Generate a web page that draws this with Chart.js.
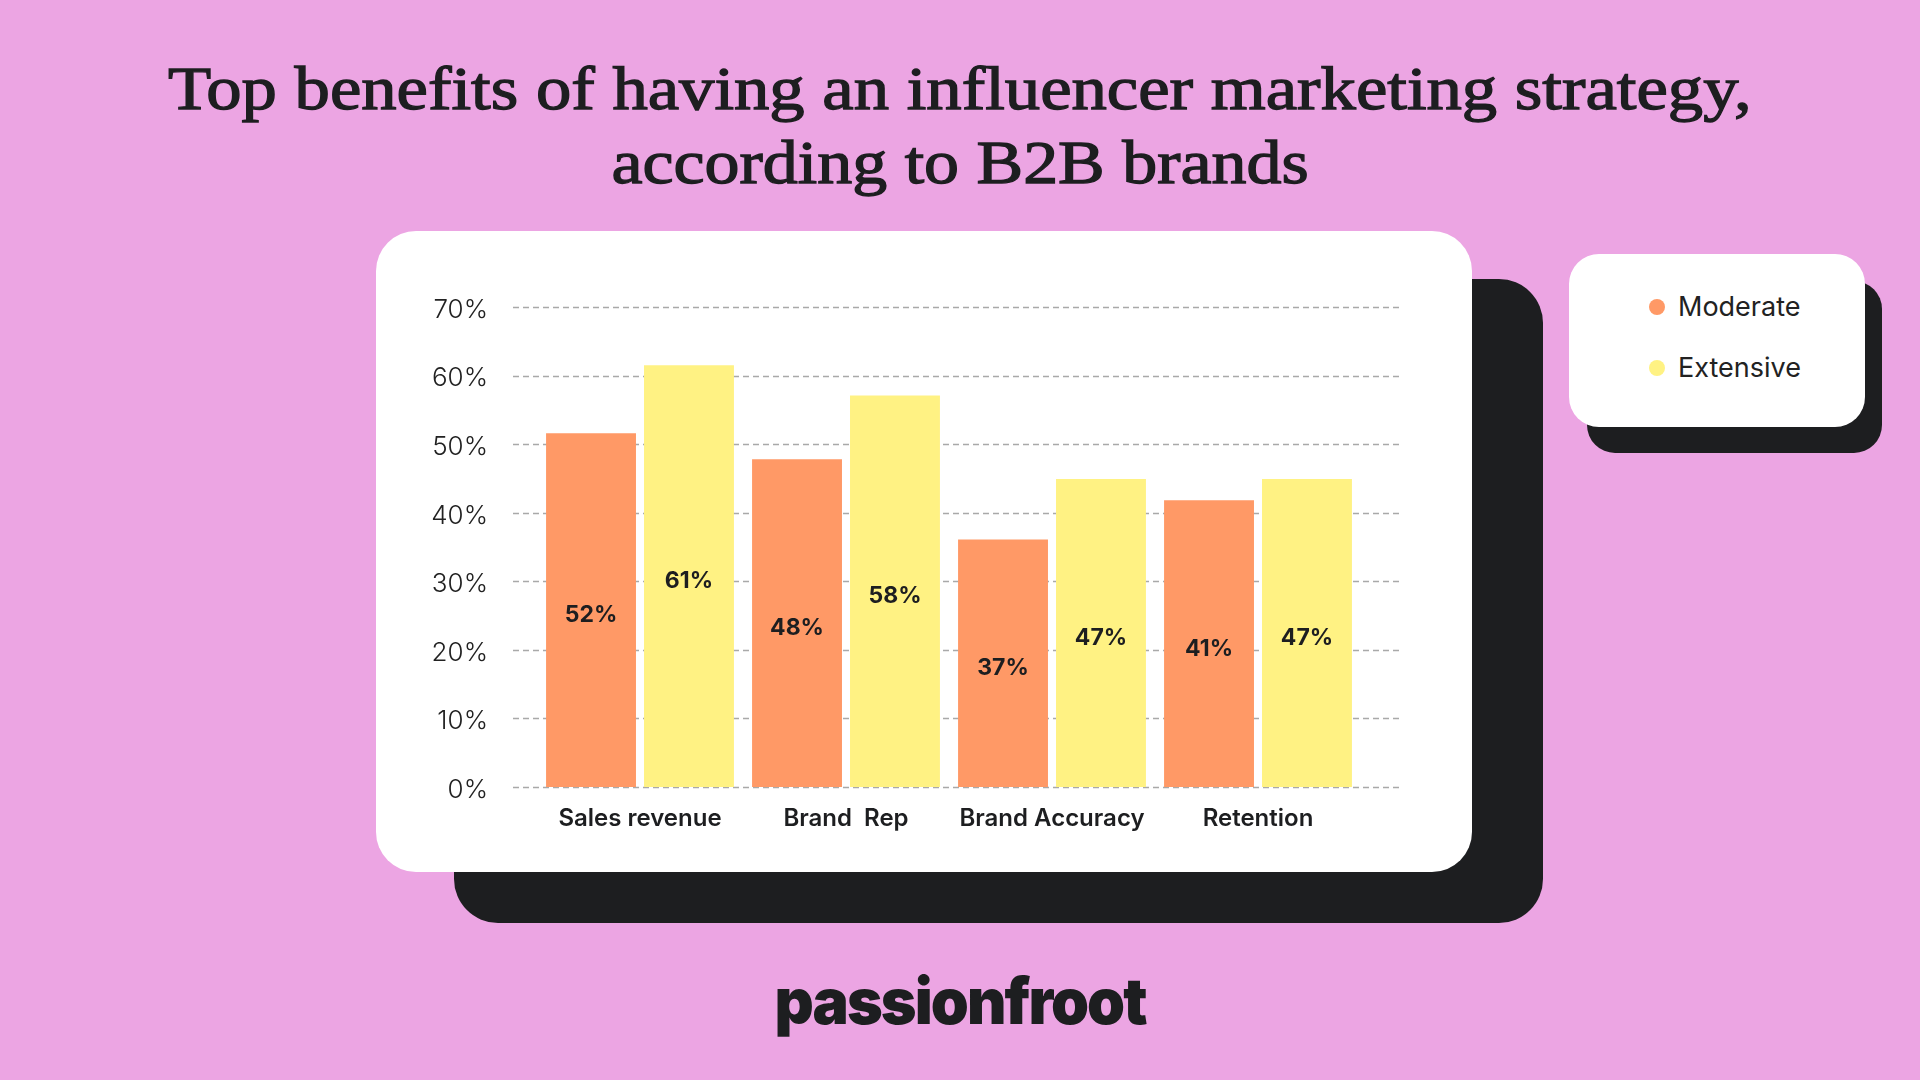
<!DOCTYPE html>
<html>
<head>
<meta charset="utf-8">
<script src="https://cdn.jsdelivr.net/npm/chart.js@4.4.1/dist/chart.umd.min.js"></script>
<style>
  html, body { margin: 0; padding: 0; }
  body { width: 1920px; height: 1080px; background: #eca5e3; position: relative; overflow: hidden; font-family: Inter, sans-serif; color: #1d1e20; }
  .title { position: absolute; left: 0; top: 51px; width: 1920px; text-align: center; font-family: "Liberation Serif", serif; font-size: 62px; line-height: 74px; -webkit-text-stroke: 1.3px #1d1e20; }
  .title span { display: inline-block; }
  .shadow { position: absolute; background: #1d1e20; }
  .card { position: absolute; background: #fff; }
  #chartBox { position: absolute; left: 376px; top: 231px; width: 1096px; height: 641px; }
  .legend-item { position: absolute; left: 1649px; font-size: 27px; line-height: 30px; color: #222; }
  .legend-item i { display: inline-block; width: 16px; height: 16px; border-radius: 50%; margin-right: 13px; vertical-align: 1px; }
  .logo { position: absolute; left: 0; top: 969px; width: 1920px; text-align: center; font-family: Inter, sans-serif; font-weight: 900; font-size: 64px; line-height: 64px; letter-spacing: -2px; }
  .logo span { display: inline-block; }
</style>
</head>
<body>

<div class="title"><span id="t1">Top benefits of having an influencer marketing strategy,</span><br><span id="t2">according to B2B brands</span></div>

<div class="shadow" style="left:454px; top:279px; width:1089px; height:644px; border-radius:44px;"></div>
<div class="card" style="left:376px; top:231px; width:1096px; height:641px; border-radius:40px;"></div>
<div id="chartBox"><canvas id="chart"></canvas></div>

<div class="shadow" style="left:1587px; top:281px; width:295px; height:172px; border-radius:28px;"></div>
<div class="card" style="left:1569px; top:254px; width:296px; height:173px; border-radius:30px;"></div>
<div id="legend"></div>

<div class="logo"><span id="logo">passionfroot</span></div>

<script>
// data
var categories = ["Sales revenue", "Brand  Rep", "Brand Accuracy", "Retention"];
var seriesNames = ["Moderate", "Extensive"];
var seriesColors = ["#ff9966", "#fff283"];
var moderateValues = [51.6, 47.8, 36.1, 41.8];
var extensiveValues = [61.5, 57.1, 44.9, 44.9];
// the printed labels (they don't quite match the bar heights in the original)
var moderateText = ["52%", "48%", "37%", "41%"];
var extensiveText = ["61%", "58%", "47%", "47%"];
var yTicks = [0, 10, 20, 30, 40, 50, 60, 70];

// stretch title lines / logo to the widths seen in the reference
function fitWidth(id, w) {
  var el = document.getElementById(id);
  el.style.transform = "scaleX(" + (w / el.offsetWidth) + ")";
}
fitWidth("t1", 1584);
fitWidth("t2", 697);
fitWidth("logo", 371);

// html legend, next to the chart card
var legend = document.getElementById("legend");
var legendTops = [292, 353];
for (var i = 0; i < seriesNames.length; i++) {
  var item = document.createElement("div");
  item.className = "legend-item";
  item.style.top = legendTops[i] + "px";
  item.innerHTML = '<i style="background:' + seriesColors[i] + '"></i>' + seriesNames[i];
  legend.appendChild(item);
}

// dashed grid lines that run a bit past the plot on both sides
var dashedGrid = {
  id: "dashedGrid",
  beforeDatasetsDraw: function(chart) {
    var ctx = chart.ctx;
    var area = chart.chartArea;
    var y = chart.scales.y;
    ctx.save();
    ctx.strokeStyle = "#a9a9a9";
    ctx.lineWidth = 1.5;
    ctx.setLineDash([6, 4]);
    yTicks.forEach(function(v) {
      var py = Math.round(y.getPixelForValue(v)) + 0.5;
      ctx.beginPath();
      ctx.moveTo(area.left - 24, py);
      ctx.lineTo(area.right + 40, py);
      ctx.stroke();
    });
    ctx.restore();
  }
};

// percentage text in the middle of each bar
var barText = {
  id: "barText",
  afterDatasetsDraw: function(chart) {
    var ctx = chart.ctx;
    var texts = [moderateText, extensiveText];
    ctx.save();
    ctx.font = "700 23px Inter";
    ctx.fillStyle = "#1d1e20";
    ctx.textAlign = "center";
    ctx.textBaseline = "middle";
    chart.data.datasets.forEach(function(ds, di) {
      chart.getDatasetMeta(di).data.forEach(function(bar, j) {
        ctx.fillText(texts[di][j], bar.x, (bar.y + bar.base) / 2 + 5);
      });
    });
    ctx.restore();
  }
};

new Chart(document.getElementById("chart"), {
  type: "bar",
  data: {
    labels: categories,
    datasets: [
      { label: seriesNames[0], data: moderateValues, backgroundColor: seriesColors[0] },
      { label: seriesNames[1], data: extensiveValues, backgroundColor: seriesColors[1] }
    ]
  },
  options: {
    responsive: true,
    maintainAspectRatio: false,
    animation: false,
    categoryPercentage: 0.951,
    barPercentage: 0.918,
    layout: { padding: { top: 76, right: 111, bottom: 25, left: 0 } },
    plugins: { legend: { display: false }, tooltip: { enabled: false } },
    scales: {
      x: {
        grid: { display: false },
        border: { display: false },
        ticks: { color: "#1d1e20", font: { family: "Inter", size: 24, weight: 600 }, padding: 9, maxRotation: 0 },
        afterFit: function(scale) { scale.height = 60; }
      },
      y: {
        min: 0,
        max: 70,
        grid: { display: false, drawTicks: false },
        border: { display: false },
        ticks: {
          stepSize: 10,
          color: "#222",
          padding: 49,
          labelOffset: 3,
          font: { family: "Inter", size: 26, weight: 300 },
          callback: function(v) { return v + "%"; }
        },
        afterFit: function(scale) { scale.width = 161; }
      }
    }
  },
  plugins: [dashedGrid, barText]
});
</script>
</body>
</html>
